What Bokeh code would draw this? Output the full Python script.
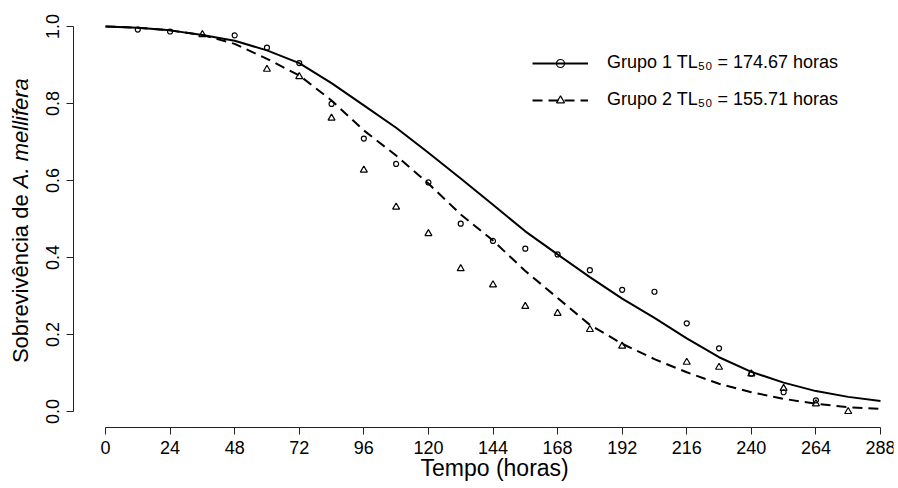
import math
from bokeh.plotting import figure
from bokeh.models import Range1d, FixedTicker, Legend, LegendItem, Label, PrintfTickFormatter
from bokeh.embed import file_html
from bokeh.resources import INLINE

# ---- data ----
x_ticks = [0, 24, 48, 72, 96, 120, 144, 168, 192, 216, 240, 264, 288]
y_ticks = [0.0, 0.2, 0.4, 0.6, 0.8, 1.0]

times_g1 = [12, 24, 48, 60, 72, 84, 96, 108, 120, 132, 144, 156, 168, 180, 192, 204, 216, 228, 240, 252, 264]
surv_g1 = [0.992, 0.987, 0.977, 0.945, 0.905, 0.799, 0.709, 0.643, 0.595, 0.488, 0.443, 0.423, 0.408, 0.367,
           0.316, 0.311, 0.229, 0.164, 0.098, 0.050, 0.029]

times_g2 = [36, 60, 72, 84, 96, 108, 120, 132, 144, 156, 168, 180, 192, 216, 228, 240, 252, 264, 276]
surv_g2 = [0.979, 0.889, 0.870, 0.762, 0.627, 0.531, 0.462, 0.371, 0.329, 0.273, 0.255, 0.213, 0.170,
           0.128, 0.115, 0.098, 0.060, 0.020, 0.000]

curve_t = [0, 12, 24, 36, 48, 60, 72, 84, 96, 108, 120, 132, 144, 156, 168, 180, 192, 204, 216, 228, 240, 252, 264, 276, 288]
fit_g1 = [1.0, 0.997, 0.990, 0.978, 0.963, 0.938, 0.905, 0.853, 0.795, 0.737, 0.672, 0.605, 0.537, 0.468,
          0.408, 0.349, 0.293, 0.243, 0.190, 0.141, 0.103, 0.075, 0.053, 0.038, 0.027]
fit_g2 = [1.0, 0.997, 0.990, 0.978, 0.955, 0.916, 0.873, 0.808, 0.730, 0.665, 0.592, 0.512, 0.444, 0.365,
          0.295, 0.225, 0.176, 0.136, 0.102, 0.072, 0.050, 0.033, 0.020, 0.011, 0.007]

label_g1 = "Grupo 1 TL\u2085\u2080 = 174.67 horas"
label_g2 = "Grupo 2 TL\u2085\u2080 = 155.71 horas"
ylab_plain = "Sobrevivência de "
ylab_italic = "A. mellifera"
xlab = "Tempo (horas)"

FONT = "Liberation Sans"

# frame spans the whole page; both axes are pinned inside it (R-style detached axes)
p = figure(width=898, height=488, output_backend="svg", toolbar_location=None,
           x_range=Range1d(-39.02, 292.83), y_range=Range1d(-0.2, 1.0416),
           min_border_left=0, min_border_right=5, min_border_top=10, min_border_bottom=0)
p.outline_line_color = None
p.xgrid.visible = False
p.ygrid.visible = False
p.background_fill_color = "white"
p.border_fill_color = "white"

# curves
l1 = p.line(curve_t, fit_g1, line_color="black", line_width=2)
l2 = p.line(curve_t, fit_g2, line_color="black", line_width=2, line_dash="10 6")
# points
s1 = p.scatter(times_g1, surv_g1, marker="circle", size=5, fill_color=None, line_color="black", line_width=1.2)
s2 = p.scatter(times_g2, surv_g2, marker="triangle", size=7, fill_color=None, line_color="black", line_width=1.2)

# axes
xa = p.xaxis[0]
xa.fixed_location = -0.0416
xa.ticker = FixedTicker(ticks=x_ticks)
xa.bounds = (0, 288)
xa.major_tick_in = 0
xa.major_tick_out = 7
xa.minor_tick_line_color = None
xa.axis_line_color = "#222222"
xa.major_tick_line_color = "#222222"
xa.major_label_text_font = FONT
xa.major_label_text_font_size = "18px"
xa.major_label_text_color = "black"
xa.major_label_standoff = 6

ya = p.yaxis[0]
ya.fixed_location = -12.0
ya.ticker = FixedTicker(ticks=y_ticks)
ya.bounds = (0, 1)
ya.formatter = PrintfTickFormatter(format="%.1f")
ya.major_tick_in = 0
ya.major_tick_out = 7
ya.minor_tick_line_color = None
ya.axis_line_color = "#222222"
ya.major_tick_line_color = "#222222"
ya.major_label_text_font = FONT
ya.major_label_text_font_size = "18px"
ya.major_label_text_color = "black"
ya.major_label_orientation = "parallel"
ya.major_label_standoff = 7

# axis titles
p.add_layout(Label(x=144.6, y=-0.1455, text=xlab, text_align="center", text_baseline="middle",
                   text_font=FONT, text_font_size="23px", text_color="black"))
p.add_layout(Label(x=-31.6, y=0.58, text=ylab_plain,
                   angle=math.pi / 2, text_align="right", text_baseline="middle",
                   text_font=FONT, text_font_size="22px", text_color="black"))
p.add_layout(Label(x=-31.6, y=0.58, text=ylab_italic,
                   angle=math.pi / 2, text_align="left", text_baseline="middle",
                   text_font=FONT, text_font_size="22px", text_font_style="italic", text_color="black"))

legend = Legend(items=[LegendItem(label=label_g1, renderers=[l1, s1]),
                       LegendItem(label=label_g2, renderers=[l2, s2])],
                location=(532, 378), orientation="vertical",
                glyph_width=56, glyph_height=20, label_height=20, label_standoff=19,
                spacing=16, padding=0, margin=0,
                border_line_color=None, background_fill_alpha=0,
                label_text_font=FONT, label_text_font_size="18px", label_text_color="black")
p.add_layout(legend)

open("out.html", "w").write(file_html(p, INLINE))
